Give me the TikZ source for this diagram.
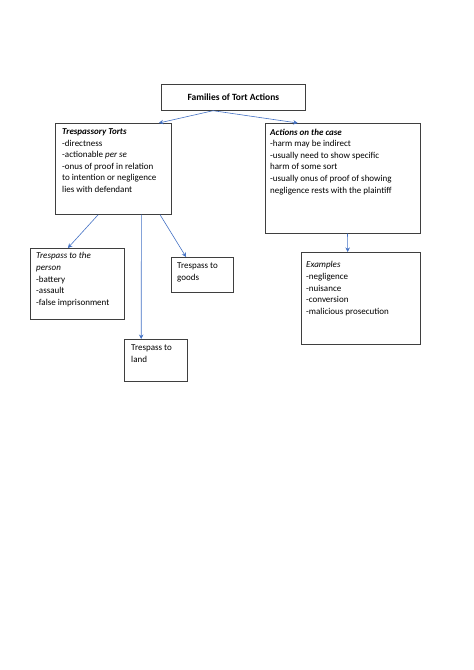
\documentclass[tikz,border=0pt]{standalone}
\usepackage{fontspec}
\setmainfont{Carlito}
\usetikzlibrary{arrows.meta,calc}
\definecolor{arrowblue}{HTML}{4472C4}
\definecolor{boxgray}{HTML}{3F3F3F}
\tikzset{
  box/.style={draw=boxgray, line width=0.7pt, anchor=north west, inner sep=0pt},
  txt/.style={anchor=north west, inner sep=0pt, align=left, font=\fontsize{9}{11.6}\selectfont},
  conn/.style={draw=arrowblue, line width=0.6pt, -{Stealth[length=4.5pt,width=4.5pt]}}
}
\begin{document}
\begin{tikzpicture}[x=1pt,y=-1pt]
\useasboundingbox (0,0) rectangle (474,670);
% boxes
\node[box, minimum width=144pt, minimum height=26pt] (top) at (161,84) {};
\node[box, minimum width=116pt, minimum height=91pt] (tt) at (55,123) {};
\node[box, minimum width=155pt, minimum height=110pt] (ac) at (265,123) {};
\node[box, minimum width=94pt, minimum height=71pt] (tp) at (30,248) {};
\node[box, minimum width=62pt, minimum height=35pt] (tg) at (171,257) {};
\node[box, minimum width=63pt, minimum height=42pt] (tl) at (124,339) {};
\node[box, minimum width=119pt, minimum height=92pt] (ex) at (301,252) {};
% texts
\node[anchor=center, inner sep=0pt, font=\fontsize{9.5}{11.6}\selectfont\bfseries] (toptxt) at ($(top.center)+(0,-0.5)$) {Families of Tort Actions};
\node[txt] (tttxt) at (62,128.5) {\textbf{\textit{Trespassory Torts}}\\-directness\\-actionable \textit{per se}\\-onus of proof in relation\\to intention or negligence\\lies with defendant};
\node[txt] (actxt) at (270,128.5) {\textbf{\textit{Actions on the case}}\\-harm may be indirect\\-usually need to show specific\\harm of some sort\\-usually onus of proof of showing\\negligence rests with the plaintiff};
\node[txt] (tptxt) at (36,252.5) {\textit{Trespass to the}\\\textit{person}\\-battery\\-assault\\-false imprisonment};
\node[txt] (tgtxt) at (177,262.5) {Trespass to\\goods};
\node[txt] (tltxt) at (131,344.5) {Trespass to\\land};
\node[txt] (extxt) at (306,261.5) {\textit{Examples}\\-negligence\\-nuisance\\-conversion\\-malicious prosecution};
% connectors
\coordinate (tb) at ($(top.south west)!0.36!(top.south east)$);
\draw[conn] (tb) -- ($(tt.north west)!0.89!(tt.north east)$);
\draw[conn] (tb) -- ($(ac.north west)!0.21!(ac.north east)$);
\draw[conn] ($(tt.south west)!0.37!(tt.south east)$) -- ($(tp.north west)!0.40!(tp.north east)$);
\draw[conn] ($(tt.south west)!0.74!(tt.south east)$) -- ($(tl.north west)!0.27!(tl.north east)$);
\draw[conn] ($(tt.south west)!0.90!(tt.south east)$) -- ($(tg.north west)!0.24!(tg.north east)$);
\draw[conn] ($(ac.south west)!0.53!(ac.south east)$) -- ($(ex.north west)!0.39!(ex.north east)$);
\end{tikzpicture}
\end{document}
